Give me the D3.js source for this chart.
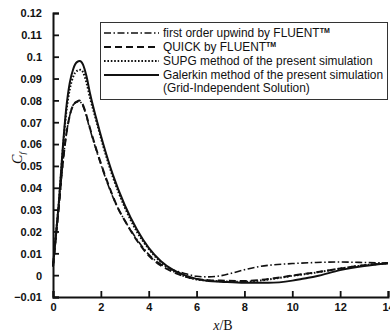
<!DOCTYPE html>
<html>
<head>
<meta charset="utf-8">
<script src="https://d3js.org/d3.v7.min.js"></script>
<style>
body { margin: 0; background: #fff; }
svg { display: block; }
.tick text { font-family: "Liberation Sans", Arial, sans-serif; font-size: 11px; font-weight: bold; fill: #111; }
.legend text { font-family: "Liberation Sans", Arial, sans-serif; font-size: 11.9px; fill: #111; }
</style>
</head>
<body>
<script>
(function() {

	// data
	var xGalerkin = [0, 0.1, 0.25, 0.4, 0.55, 0.7, 0.85, 1.0, 1.12, 1.25, 1.4, 1.55, 1.8, 2.1, 2.5, 3.0, 3.5, 4.0, 4.5, 5.0, 5.5, 6.0, 6.5, 7, 8, 9, 10, 10.5, 11, 12, 13, 14];
	var yGalerkin = [0.004, 0.016, 0.034, 0.057, 0.076, 0.088, 0.0945, 0.0975, 0.098, 0.0965, 0.091, 0.083, 0.072, 0.060, 0.046, 0.032, 0.021, 0.0125, 0.0065, 0.0025, 0.0, -0.0017, -0.0027, -0.003, -0.0035, -0.0035, -0.0025, -0.0015, -0.0005, 0.0023, 0.0042, 0.0055];

	var xSupg = [0, 0.1, 0.25, 0.4, 0.55, 0.7, 0.85, 1.0, 1.15, 1.25, 1.4, 1.55, 1.8, 2.1, 2.5, 3.0, 3.5, 4.0, 4.5, 5.0, 5.5, 6.0, 6.5, 7, 8, 9, 10, 11, 12, 13, 14];
	var ySupg = [0.004, 0.016, 0.034, 0.056, 0.074, 0.085, 0.091, 0.0935, 0.094, 0.093, 0.088, 0.081, 0.071, 0.059, 0.045, 0.031, 0.020, 0.012, 0.006, 0.002, -0.0005, -0.002, -0.0025, -0.0028, -0.003, -0.002, -0.0003, 0.0012, 0.003, 0.0045, 0.0055];

	var xQuick = [0, 0.1, 0.25, 0.4, 0.55, 0.7, 0.85, 1.0, 1.1, 1.2, 1.35, 1.5, 1.8, 2.1, 2.4, 2.7, 3.0, 3.5, 4.0, 4.5, 5.0, 5.5, 6.0, 6.5, 7, 8, 9, 10, 11, 12, 13, 14];
	var yQuick = [0.004, 0.015, 0.032, 0.050, 0.064, 0.073, 0.078, 0.0795, 0.080, 0.079, 0.075, 0.069, 0.058, 0.048, 0.039, 0.031, 0.025, 0.016, 0.009, 0.0045, 0.0015, -0.0005, -0.0018, -0.0023, -0.0025, -0.0027, -0.0018, -0.0002, 0.0013, 0.003, 0.0045, 0.0055];

	var xUpwind = [0, 0.1, 0.25, 0.4, 0.55, 0.7, 0.85, 1.0, 1.1, 1.2, 1.35, 1.5, 1.8, 2.1, 2.4, 2.7, 3.0, 3.5, 4.0, 4.5, 5.0, 5.5, 6.0, 6.5, 7, 7.5, 8, 8.5, 9, 10, 11, 12, 13, 14];
	var yUpwind = [0.004, 0.015, 0.032, 0.050, 0.064, 0.073, 0.078, 0.0792, 0.0795, 0.0785, 0.0745, 0.0685, 0.0575, 0.0475, 0.0385, 0.031, 0.025, 0.0165, 0.0095, 0.005, 0.0025, 0.0008, -0.0005, -0.0008, -0.0003, 0.001, 0.0025, 0.0037, 0.0045, 0.0053, 0.0058, 0.006, 0.0058, 0.0055];

	var xTicks = [0, 2, 4, 6, 8, 10, 12, 14];
	var yTicks = [-0.01, 0, 0.01, 0.02, 0.03, 0.04, 0.05, 0.06, 0.07, 0.08, 0.09, 0.1, 0.11, 0.12];

	var legendLabels = ["first order upwind by FLUENT", "QUICK by FLUENT", "SUPG method of the present simulation", "Galerkin method of the present simulation"];

	var W = 390, H = 333;
	var margin = { top: 13, right: 2, bottom: 36, left: 53 };
	var width = W - margin.left - margin.right;
	var height = H - margin.top - margin.bottom;

	var svg = d3.select("body").append("svg")
		.attr("width", W)
		.attr("height", H);

	var g = svg.append("g")
		.attr("transform", "translate(" + margin.left + "," + margin.top + ")");

	var x = d3.scaleLinear().domain([0, 14]).range([0, width]);
	var y = d3.scaleLinear().domain([-0.01, 0.12]).range([height, 0]);

	// axes, ticks pointing inward
	var xAxis = d3.axisBottom(x).tickValues(xTicks).tickSize(-6).tickPadding(6).tickFormat(d3.format("d"));
	var yAxis = d3.axisLeft(y).tickValues(yTicks).tickSize(-6).tickPadding(11)
		.tickFormat(function(d) { return d3.format("")(+d.toFixed(2)); });

	var gx = g.append("g")
		.attr("transform", "translate(0," + height + ")")
		.call(xAxis);
	var gy = g.append("g").call(yAxis);

	[gx, gy].forEach(function(a) {
		a.select(".domain").attr("stroke", "#111").attr("stroke-width", 2);
		a.selectAll(".tick line").attr("stroke", "#111").attr("stroke-width", 1.8);
	});
	gy.selectAll(".tick text").attr("dy", "0.35em");

	// curves
	function series(xs, ys) {
		return xs.map(function(d, i) { return [d, ys[i]]; });
	}

	var line = d3.line()
		.x(function(d) { return x(d[0]); })
		.y(function(d) { return y(d[1]); })
		.curve(d3.curveMonotoneX);

	var styles = [
		{ data: series(xUpwind, yUpwind), dash: "7,2.5,1.5,2.5", w: 1.6 },
		{ data: series(xQuick, yQuick), dash: "7,4", w: 2 },
		{ data: series(xSupg, ySupg), dash: "1.6,1.8", w: 2 },
		{ data: series(xGalerkin, yGalerkin), dash: null, w: 2 }
	];

	styles.forEach(function(s) {
		g.append("path")
			.datum(s.data)
			.attr("fill", "none")
			.attr("stroke", "#111")
			.attr("stroke-width", s.w)
			.attr("stroke-dasharray", s.dash)
			.attr("d", line);
	});

	// legend
	var legend = svg.append("g").attr("class", "legend");
	legend.append("rect")
		.attr("x", 100.5).attr("y", 22.5)
		.attr("width", 287).attr("height", 77)
		.attr("fill", "#fff")
		.attr("stroke", "#333")
		.attr("stroke-width", 1);

	styles.forEach(function(s, i) {
		var ly = 33 + i * 14;
		legend.append("line")
			.attr("x1", 104).attr("x2", 159)
			.attr("y1", ly).attr("y2", ly)
			.attr("stroke", "#111")
			.attr("stroke-width", s.w)
			.attr("stroke-dasharray", s.dash);
		var t = legend.append("text")
			.attr("x", 163).attr("y", ly + 4)
			.text(legendLabels[i]);
		if (i < 2) {
			t.append("tspan")
				.attr("dy", -4)
				.attr("font-size", "7px")
				.attr("font-weight", "bold")
				.text("TM");
		}
	});
	legend.append("text")
		.attr("x", 163).attr("y", 92)
		.text("(Grid-Independent Solution)");

	// axis titles
	var yt = svg.append("text")
		.attr("transform", "translate(22,158) rotate(-90)")
		.attr("text-anchor", "middle")
		.style("font-family", "'Liberation Serif', 'Times New Roman', serif")
		.style("font-style", "italic")
		.style("font-size", "14px")
		.style("fill", "#111");
	yt.append("tspan").text("C");
	yt.append("tspan").attr("dy", 3).style("font-size", "9px").text("f");

	var xt = svg.append("text")
		.attr("x", 223).attr("y", 330)
		.attr("text-anchor", "middle")
		.style("font-family", "'Liberation Serif', 'Times New Roman', serif")
		.style("font-size", "14px")
		.style("fill", "#111");
	xt.append("tspan").style("font-style", "italic").text("x");
	xt.append("tspan").text("/B");

})();
</script>
</body>
</html>
